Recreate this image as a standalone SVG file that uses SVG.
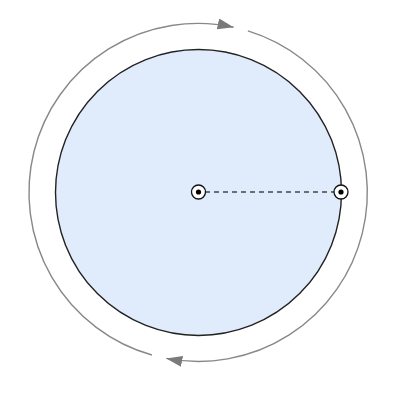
<svg xmlns="http://www.w3.org/2000/svg" width="400" height="400" viewBox="0 0 400 400">
  <defs>
    <style>
      .disk { fill: #e0ecfc; stroke: #222; stroke-width: 1.4; }
      .arc { fill: none; stroke: #888; stroke-width: 1.4; marker-end: url(#arrow); }
      .radius { stroke: #444; stroke-width: 1.3; stroke-dasharray: 5 4; fill: none; }
      .pt-ring { fill: #fff; stroke: #111; stroke-width: 1.3; }
      .pt-dot { fill: #000; }
    </style>
    <marker id="arrow" markerUnits="userSpaceOnUse" markerWidth="17" markerHeight="12" refX="16" refY="5.5" orient="auto">
      <path d="M0,0 L16,5.5 L0,11 z" fill="#7a7a7a"/>
    </marker>
  </defs>
  <rect width="400" height="400" fill="#fff"/>
  <g id="disk">
    <circle class="disk" cx="198.5" cy="192.5" r="143"/>
  </g>
  <g id="connectors">
    <path class="arc" d="M151.9,355 A169,169 0 0 1 233.6,27.2"/>
    <path class="arc" d="M247.9,30.9 A169,169 0 0 1 166.3,358.4"/>
    <line class="radius" x1="205" y1="192" x2="334" y2="192"/>
  </g>
  <g id="center-point">
    <circle class="pt-ring" cx="198.5" cy="192" r="7"/>
    <circle class="pt-dot" cx="198.5" cy="192" r="2.6"/>
  </g>
  <g id="rim-point">
    <circle class="pt-ring" cx="341" cy="192" r="7"/>
    <circle class="pt-dot" cx="341" cy="192" r="2.6"/>
  </g>
</svg>
